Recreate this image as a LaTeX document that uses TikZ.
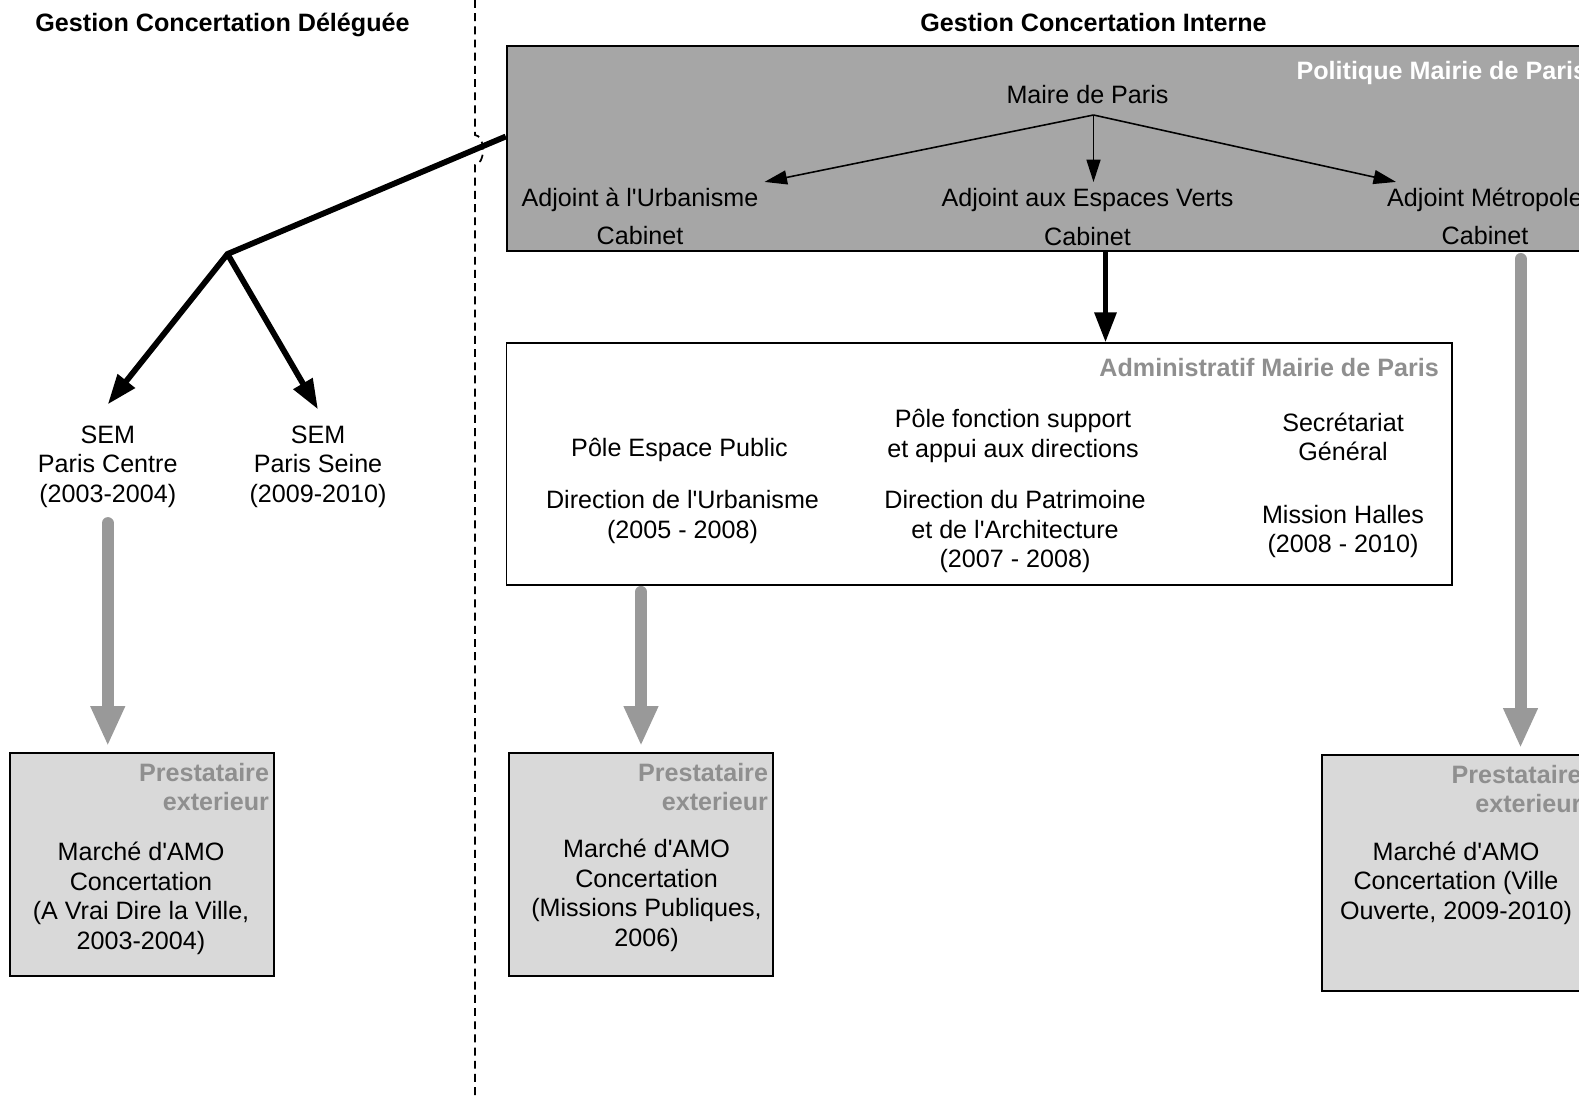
\documentclass[tikz,border=0pt]{standalone}
\usepackage{fontspec}
\setmainfont{Liberation Sans}[Ligatures=TeXOff]
\usetikzlibrary{arrows.meta, positioning, calc}

\definecolor{polfill}{HTML}{A6A6A6}
\definecolor{prestfill}{HTML}{D9D9D9}
\definecolor{taggray}{HTML}{8F8F8F}
\definecolor{arrowgray}{HTML}{999999}

\begin{document}
\begin{tikzpicture}[
		font=\fontsize{14.3}{16.8}\selectfont,
		thin arrow/.style = {-{Triangle[length=4.5mm, width=2.8mm]}, line width=0.9pt},
		thick arrow/.style = {-{Triangle[length=6mm, width=4.2mm]}, line width=3.3pt},
		gray arrow/.style = {-{Triangle[length=8mm, width=6.4mm]}, line width=2.4mm, draw=arrowgray, line cap=round}
	]
	\tikzstyle{Node} = [ %base look of the boxes
		draw=black,
		line width=1.1pt
	]
	\tikzstyle{PolNode} = [
		Node,
		fill=polfill,
		minimum width=21.87cm,
		minimum height=4.09cm
	]
	\tikzstyle{AdmNode} = [
		Node,
		fill=white,
		minimum width=18.91cm,
		minimum height=4.83cm
	]
	\tikzstyle{PrestNode} = [
		Node,
		fill=prestfill,
		minimum width=5.29cm,
		minimum height=4.46cm
	]
	\tikzstyle{TxtNode} = [align=center, yshift=-0.6mm]
	\tikzstyle{TagNode} = [
		font=\fontsize{14.3}{16.8}\selectfont\bfseries,
		text=taggray,
		align=right,
		yshift=-1mm
	]
	\tikzstyle{TitleNode} = [TxtNode, font=\fontsize{14.3}{16.8}\selectfont\bfseries]
	
	\useasboundingbox (0,0) rectangle (31.58,-22);
	\clip (0,0) rectangle (31.58,-22);
	
	\node (deleg) [TitleNode] at (4.45,-0.44) {Gestion Concertation Déléguée};
	\node (interne) [TitleNode] at (21.87,-0.40) {Gestion Concertation Interne};
	\draw[line width=1pt, dash pattern=on 4.5pt off 3pt] (9.5,0) -- (9.5,-2.7)
		arc[start angle=90, end angle=-90, x radius=0.16, y radius=0.3] -- (9.5,-22);
	
	% politique
	\node (pol) [PolNode] at (21.07,-2.97) {};
	\node (poltag) [TagNode, text=white, below left = 0.1cm and 0.16cm of pol.north east] {Politique Mairie de Paris};
	\node (maire) [TxtNode] at (21.75,-1.83) {Maire de Paris};
	\coordinate (fork) at (21.87,-2.3);
	\node (urb) [TxtNode] at (12.8,-3.94) {Adjoint à l'Urbanisme};
	\node (urbcab) [TxtNode] at (12.8,-4.65) {Cabinet};
	\node (verts) [TxtNode] at (21.75,-3.94) {Adjoint aux Espaces Verts};
	\node (vertscab) [TxtNode] at (21.75,-4.67) {Cabinet};
	\node (metro) [TxtNode] at (29.7,-3.94) {Adjoint Métropole};
	\node (metrocab) [TxtNode] at (29.7,-4.65) {Cabinet};
	\draw[thin arrow] (fork) -- (urb.north east);
	\draw[thin arrow] (fork) -- (fork |- verts.north);
	\draw[thin arrow] (fork) -- ([xshift=3mm]metro.north west);
	
	% deleguee
	\coordinate (split) at (4.55,-5.08);
	\node (sem1) [TxtNode] at (2.155,-9.27) {SEM\\Paris Centre\\(2003-2004)};
	\node (sem2) [TxtNode] at (6.36,-9.27) {SEM\\Paris Seine\\(2009-2010)};
	\draw[thick arrow] ([yshift=2.4mm]pol.west) -- (split) -- ([yshift=3mm]sem1.north);
	\draw[thick arrow] (split) -- ([yshift=2mm]sem2.north);
	
	\node (presta1) [PrestNode] at (2.84,-17.29) {};
	\node (tag1) [TagNode, below left = 0cm and 0cm of presta1.north east] {Prestataire\\exterieur};
	\node (amo1) [TxtNode] at (2.82,-17.91) {Marché d'AMO\\Concertation\\(A Vrai Dire la Ville,\\2003-2004)};
	\draw[gray arrow, shorten <=1.9mm, shorten >=1.2mm] (sem1.south) -- (sem1.south |- presta1.north);
	
	% administratif
	\node (admin) [AdmNode] at (19.585,-9.284) {};
	\node (admtag) [TagNode, below left = 0.09cm and 0.16cm of admin.north east] {Administratif Mairie de Paris};
	\node (pole1) [TxtNode] at (13.59,-8.94) {Pôle Espace Public};
	\node (dir1) [TxtNode] at (13.65,-10.28) {Direction de l'Urbanisme\\(2005 - 2008)};
	\node (pole2) [TxtNode] at (20.26,-8.66) {Pôle fonction support\\et appui aux directions};
	\node (dir2) [TxtNode] at (20.3,-10.57) {Direction du Patrimoine\\et de l'Architecture\\(2007 - 2008)};
	\node (sg) [TxtNode] at (26.86,-8.68) {Secrétariat\\Général};
	\node (mh) [TxtNode] at (26.86,-10.57) {Mission Halles\\(2008 - 2010)};
	\coordinate (vertsout) at (22.11,-5.03);
	\draw[thick arrow] (vertsout) -- (vertsout |- admin.north);
	
	\node (presta2) [PrestNode] at (12.82,-17.29) {};
	\node (tag2) [TagNode, below left = 0cm and 0cm of presta2.north east] {Prestataire\\exterieur};
	\node (amo2) [TxtNode] at (12.93,-17.85) {Marché d'AMO\\Concertation\\(Missions Publiques,\\2006)};
	\draw[gray arrow, shorten <=1.2mm, shorten >=1.2mm] (admin.south -| presta2.north) -- (presta2.north);
	
	\node (presta3) [PrestNode, minimum height=4.72cm] at (29.09,-17.46) {};
	\node (tag3) [TagNode, below left = 0cm and 0cm of presta3.north east] {Prestataire\\exterieur};
	\node (amo3) [TxtNode] at (29.12,-17.6) {Marché d'AMO\\Concertation (Ville\\Ouverte, 2009-2010)};
	\coordinate (metroout) at (30.41,-5.03);
	\draw[gray arrow, shorten <=1.5mm, shorten >=1.2mm] (metroout) -- (metroout |- presta3.north);
\end{tikzpicture}
\end{document}
